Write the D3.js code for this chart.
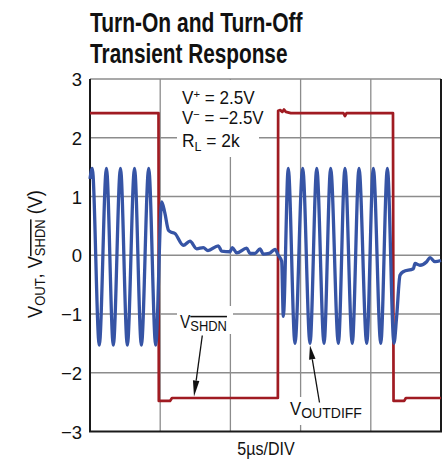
<!DOCTYPE html>
<html><head><meta charset="utf-8">
<script src="https://cdn.jsdelivr.net/npm/d3@7/dist/d3.min.js"></script>
<style>
body{margin:0;background:#fff}
text{font-family:"Liberation Sans",Arial,Helvetica,sans-serif;fill:#111}
</style>
</head><body>
<svg id="chart" width="448" height="460"></svg>
<script>
// ---- data ----
const yTicks = [3, 2, 1, 0, -1, -2, -3];
const xGridTimes = [0, 5, 10, 15, 20, 25];           // µs, 5µs/DIV
const xDomain = [0, 25];
const yDomain = [-3, 3];

// V_SHDN trace (time µs, volts)
const shdnTime = [0, 4.88, 4.9, 5.7, 5.84, 13.38, 13.4, 13.55, 13.7, 13.82, 13.95, 14.3, 18.05, 18.16, 18.27, 21.58, 21.62, 22.38, 22.5, 25];
const shdnVolt = [2.42, 2.42, -2.48, -2.48, -2.43, -2.43, 2.46, 2.47, 2.44, 2.48, 2.44, 2.42, 2.42, 2.37, 2.42, 2.42, -2.48, -2.48, -2.43, -2.43];

// V_OUTDIFF trace (time µs, volts)
const outTime = [0, 0.16, 0.66, 1.17, 1.66, 2.17, 2.66, 3.17, 3.66, 4.18, 4.68,
  5.11, 5.33, 5.58, 5.72, 6.05, 6.65, 7.12, 7.6, 8.07, 8.4, 9.14, 9.38, 9.97, 10.14, 10.45,
  11.16, 11.4, 11.75, 12.11, 12.34, 12.75, 13.18, 13.41, 13.65, 13.77,
  14.12, 14.6, 15.15, 15.67, 16.15, 16.67, 17.14, 17.69, 18.16, 18.68, 19.16, 19.71, 20.18, 20.71, 21.18, 21.65,
  21.84, 22.08, 22.31, 23.03, 23.15, 23.5, 23.98, 24.22, 24.57, 25];
const outVolt = [1.3, 1.48, -1.53, 1.48, -1.53, 1.48, -1.53, 1.48, -1.53, 1.48, -1.53,
  0.91, 0.72, 0.43, 0.4, 0.37, 0.17, 0.24, 0.11, 0.13, 0.08, 0.16, 0.07, 0.06, 0.13, 0.04,
  0.12, 0.03, 0.03, 0.11, 0.02, 0.03, 0.1, 0.0, -0.1, -1.04,
  1.48, -1.5, 1.48, -1.5, 1.48, -1.5, 1.48, -1.5, 1.48, -1.5, 1.48, -1.5, 1.48, -1.5, 1.48, -1.5,
  -1.05, -0.34, -0.28, -0.23, -0.14, -0.17, -0.11, -0.04, -0.11, -0.09];

const titleLines = ["Turn-On and Turn-Off", "Transient Response"];
const xLabel = "5µs/DIV";

// ---- drawing ----
const svg = d3.select("#chart");
const L = 90, R = 441, T = 79, B = 431.5;
const x = d3.scaleLinear().domain(xDomain).range([L, R]);
const y = d3.scaleLinear().domain(yDomain).range([B, T]);

function fitX(sel, w) {
  const bw = sel.node().getBBox().width;
  return bw > 0 ? w / bw : 1;
}

// title
const tFont = '"Liberation Sans Narrow","Liberation Sans",Arial,sans-serif';
[[titleLines[0], 31.7, 213], [titleLines[1], 63.3, 197.5]].forEach(([s, by, w]) => {
  const g = svg.append("g");
  const t = g.append("text").attr("x", 0).attr("y", 0)
    .style("font-family", tFont).style("font-weight", "bold").style("font-size", "28.5px").text(s);
  const sx = fitX(t, w);
  g.attr("transform", `translate(${L},${by}) scale(${sx},1)`);
});

// grid
const grid = svg.append("g");
grid.selectAll("line.h").data(yTicks.filter(v => v > -3)).join("line")
  .attr("x1", L).attr("x2", R).attr("y1", d => y(d)).attr("y2", d => y(d))
  .attr("stroke", "#8c8c8c").attr("stroke-width", 1.3);
grid.selectAll("line.v").data(xGridTimes.slice(1, -1)).join("line")
  .attr("x1", d => x(d)).attr("x2", d => x(d)).attr("y1", T).attr("y2", B)
  .attr("stroke", "#8c8c8c").attr("stroke-width", 1.3);

// white label backgrounds
svg.append("rect").attr("x", 177).attr("y", T + 1).attr("width", 82).attr("height", 77).attr("fill", "#fff");
svg.append("rect").attr("x", 177).attr("y", 306).attr("width", 56).attr("height", 28).attr("fill", "#fff");
svg.append("rect").attr("x", 287).attr("y", 397).attr("width", 78).attr("height", 28).attr("fill", "#fff");

// frame
svg.append("path").attr("d", `M${L},${T}V${B}H${R}V${T}`)
  .attr("fill", "none").attr("stroke", "#1a1a1a").attr("stroke-width", 2);

// y tick labels
svg.append("g").selectAll("text").data(yTicks).join("text")
  .attr("x", 82).attr("y", d => y(d) + 7)
  .attr("text-anchor", "end").style("font-size", "18.5px")
  .text(d => d < 0 ? "\u2212" + Math.abs(d) : String(d));

// traces
const shdnData = d3.zip(shdnTime, shdnVolt);
const outData = d3.zip(outTime, outVolt);
svg.append("path").datum(shdnData)
  .attr("d", d3.line().x(d => x(d[0])).y(d => y(d[1])))
  .attr("fill", "none").attr("stroke", "#a01b22").attr("stroke-width", 2.7).attr("stroke-linejoin", "round");
svg.append("path").datum(outData)
  .attr("d", d3.line().curve(d3.curveMonotoneX).x(d => x(d[0])).y(d => y(d[1])))
  .attr("fill", "none").attr("stroke", "#3654a5").attr("stroke-width", 3.3).attr("stroke-linejoin", "round");

// conditions annotation
function condLine(by, main, sup, rest, subMode, w) {
  const g = svg.append("g");
  const t = g.append("text").attr("x", 0).attr("y", 0).style("font-size", "17.5px");
  t.append("tspan").text(main);
  if (subMode === "sup") {
    t.append("tspan").attr("dy", -6).style("font-size", "11.5px").text(sup);
    t.append("tspan").attr("dy", 6).text(rest);
  } else {
    t.append("tspan").attr("dy", 4).style("font-size", "12.5px").text(sup);
    t.append("tspan").attr("dy", -4).text(rest);
  }
  const sx = fitX(t, w);
  g.attr("transform", `translate(182,${by}) scale(${sx},1)`);
}
condLine(104, "V", "+", " = 2.5V", "sup", 73);
condLine(124.3, "V", "\u2212", " = \u22122.5V", "sup", 82);
condLine(147.3, "R", "L", " = 2k", "sub", 58);

// x label
{
  const g = svg.append("g");
  const t = g.append("text").attr("x", 0).attr("y", 0).attr("text-anchor", "middle").style("font-size", "18.5px").text(xLabel);
  const sx = fitX(t, 58);
  g.attr("transform", `translate(266,455) scale(${sx},1)`);
}

// y label
{
  const g = svg.append("g");
  const t = g.append("text").attr("x", 0).attr("y", 0).attr("text-anchor", "middle").style("font-size", "21px");
  t.append("tspan").text("V");
  t.append("tspan").attr("dy", 3.5).style("font-size", "15px").text("OUT");
  t.append("tspan").attr("dy", -3.5).text(", V");
  t.append("tspan").attr("dy", 3.5).style("font-size", "15px").style("text-decoration", "overline").text("SHDN");
  t.append("tspan").attr("dy", -3.5).text(" (V)");
  const sx = fitX(t, 128);
  g.attr("transform", `translate(41.5,254) rotate(-90) scale(${sx},1)`);
}

// trace labels with arrows
function subLabel(x0, by, sub, w, over) {
  const g = svg.append("g");
  const t = g.append("text").attr("x", 0).attr("y", 0).style("font-size", "18.5px");
  t.append("tspan").text("V");
  const s = t.append("tspan").attr("dy", 3).style("font-size", "15.5px").text(sub);
  if (over) s.style("text-decoration", "overline");
  const sx = fitX(t, w);
  g.attr("transform", `translate(${x0},${by}) scale(${sx},1)`);
}
subLabel(180, 328, "SHDN", 47, true);
subLabel(290, 414.5, "OUTDIFF", 72, false);

function arrow(x1, y1, x2, y2, hl, hw) {
  const a = Math.atan2(y2 - y1, x2 - x1);
  const bx = x2 - hl * Math.cos(a), by = y2 - hl * Math.sin(a);
  svg.append("line").attr("x1", x1).attr("y1", y1).attr("x2", bx).attr("y2", by)
    .attr("stroke", "#111").attr("stroke-width", 1.3);
  const px = -Math.sin(a) * hw / 2, py = Math.cos(a) * hw / 2;
  svg.append("path").attr("d", `M${x2},${y2}L${bx + px},${by + py}L${bx - px},${by - py}Z`).attr("fill", "#111");
}
arrow(202.3, 335.5, 194, 396.5, 16, 6.5);
arrow(319.5, 402.5, 310, 345.5, 14, 6.5);
</script>
</body></html>
